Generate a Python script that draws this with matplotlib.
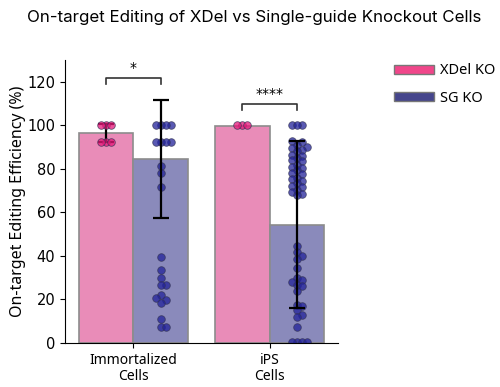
"""Bar + strip chart: on-target editing of XDel vs single-guide knockout cells."""

import numpy as np
import matplotlib
matplotlib.use("agg")
import matplotlib.pyplot as plt
from matplotlib.patches import Patch


GROUPS = ["Immortalized\nCells", "iPS\nCells"]
SERIES = ["XDel KO", "SG KO"]

# bar heights (mean) and error (sd), per group, per series
XDEL_MEAN = [96.5, 99.6]
XDEL_SD = [4.0, 0.0]
SG_MEAN = [84.5, 54.3]
SG_SD = [27.0, 38.4]

# individual replicates
XDEL_IMM = [100, 100, 100, 92.4, 92.4, 92.4]
XDEL_IPS = [100, 100, 100]
SG_IMM = [100, 100, 100, 100, 92.2, 92.2, 92.2, 92.2, 81.5, 78, 71.5,
          39.7, 33.6, 30, 26.5, 26.5, 22, 20.5, 19.6, 18.4, 10.8, 7.5, 7.5]
SG_IPS = [100, 100, 100,
          93, 92.5, 91, 90, 89.5, 88.7, 88, 86.5, 86, 85, 84.2, 83.5, 82,
          81, 80.5, 79.5, 78, 77.5, 76, 75.5, 74.5, 73.5, 72, 71.5, 70.5,
          69.5, 68.5, 67.8,
          44.7, 41.7, 40.2, 38.8, 34.5, 30, 29, 28.2, 26.8, 26, 23.8,
          17.6, 16.8, 15, 12.8, 12, 7.5, 0.6, 0.6, 0.6, 0.6]

LEGEND_COLORS = ["#f0468a", "#45458c"]
BAR_COLORS = ["#e98cb8", "#8a8abb"]
DOT_COLORS = ["#e8177a", "#22229a"]
SIG_LABELS = ["*", "****"]
SIG_Y = [122, 110]

plt.rcParams["font.family"] = ["DejaVu Sans"]

fig = plt.figure(figsize=(5, 3.87), dpi=100)
ax = fig.add_axes([0.13, 0.1137, 0.546, 0.731])
ax.set_xlim(-0.5, 1.5)
ax.set_ylim(0, 130)

bbox = ax.get_window_extent()
px_x = bbox.width / 2.0
px_y = bbox.height / 130.0


def swarm(values, d=5.0):
    """Deterministic beeswarm offsets (data x units)."""
    placed = []
    offs = np.zeros(len(values))
    order = np.argsort(values)
    for i in order:
        y = values[i] * px_y
        k = 0
        while True:
            step = (k + 1) // 2 * (1 if k % 2 else -1) * d
            if all((step - px) ** 2 + (y - py) ** 2 >= d * d for px, py in placed):
                break
            k += 1
        placed.append((step, y))
        offs[i] = step / px_x
    return offs


x = np.arange(len(GROUPS))
w = 0.4
means = [XDEL_MEAN, SG_MEAN]
sds = [XDEL_SD, SG_SD]
points = [[XDEL_IMM, XDEL_IPS], [SG_IMM, SG_IPS]]
dot_z = [3, 2]

for s in range(2):
    xs = x - w / 2 + s * w
    ax.bar(xs, means[s], width=w, color=BAR_COLORS[s],
           edgecolor="#8c8c8c", linewidth=1.2, zorder=1)
    for g in range(2):
        vals = np.array(points[s][g], dtype=float)
        ax.scatter(xs[g] + swarm(vals), vals, s=30, color=DOT_COLORS[s],
                   alpha=0.75, edgecolor="#333355", linewidth=0.6, zorder=dot_z[s])
        if sds[s][g] > 0:
            ax.errorbar(xs[g], means[s][g], yerr=sds[s][g], fmt="none",
                        ecolor="black", elinewidth=1.6, capsize=5.5,
                        capthick=1.6, zorder=2.5)

# significance brackets
for g in range(2):
    x0, x1 = x[g] - w / 2, x[g] + w / 2
    y = SIG_Y[g]
    ax.plot([x0, x0, x1, x1], [y - 3, y, y, y - 3], color="#333333", lw=1.2)
    ax.text(x[g], y + 1, SIG_LABELS[g], ha="center", va="bottom", fontsize=10)

ax.spines["top"].set_visible(False)
ax.spines["right"].set_visible(False)
ax.set_xticks(x)
ax.set_xticklabels(GROUPS, family="Noto Sans", fontsize=10, linespacing=1.15)
ax.set_yticks(range(0, 121, 20))
ax.tick_params(axis="y", labelsize=10.5)
ax.set_ylabel("On-target Editing Efficiency (%)", family="Noto Sans",
              fontsize=11.5, labelpad=1)

fig.suptitle("On-target Editing of XDel vs Single-guide Knockout Cells",
             family="Inter", fontsize=12.2, x=0.508, y=0.975)

handles = [Patch(facecolor=c, edgecolor="#777777") for c in LEGEND_COLORS]
fig.legend(handles, SERIES, loc="upper left", bbox_to_anchor=(0.762, 0.87),
           frameon=False, prop={"family": "Noto Sans", "size": 10.5},
           handlelength=2.7, handleheight=0.55, handletextpad=0.45,
           labelspacing=0.85)

fig.savefig("out.png", dpi=100)
